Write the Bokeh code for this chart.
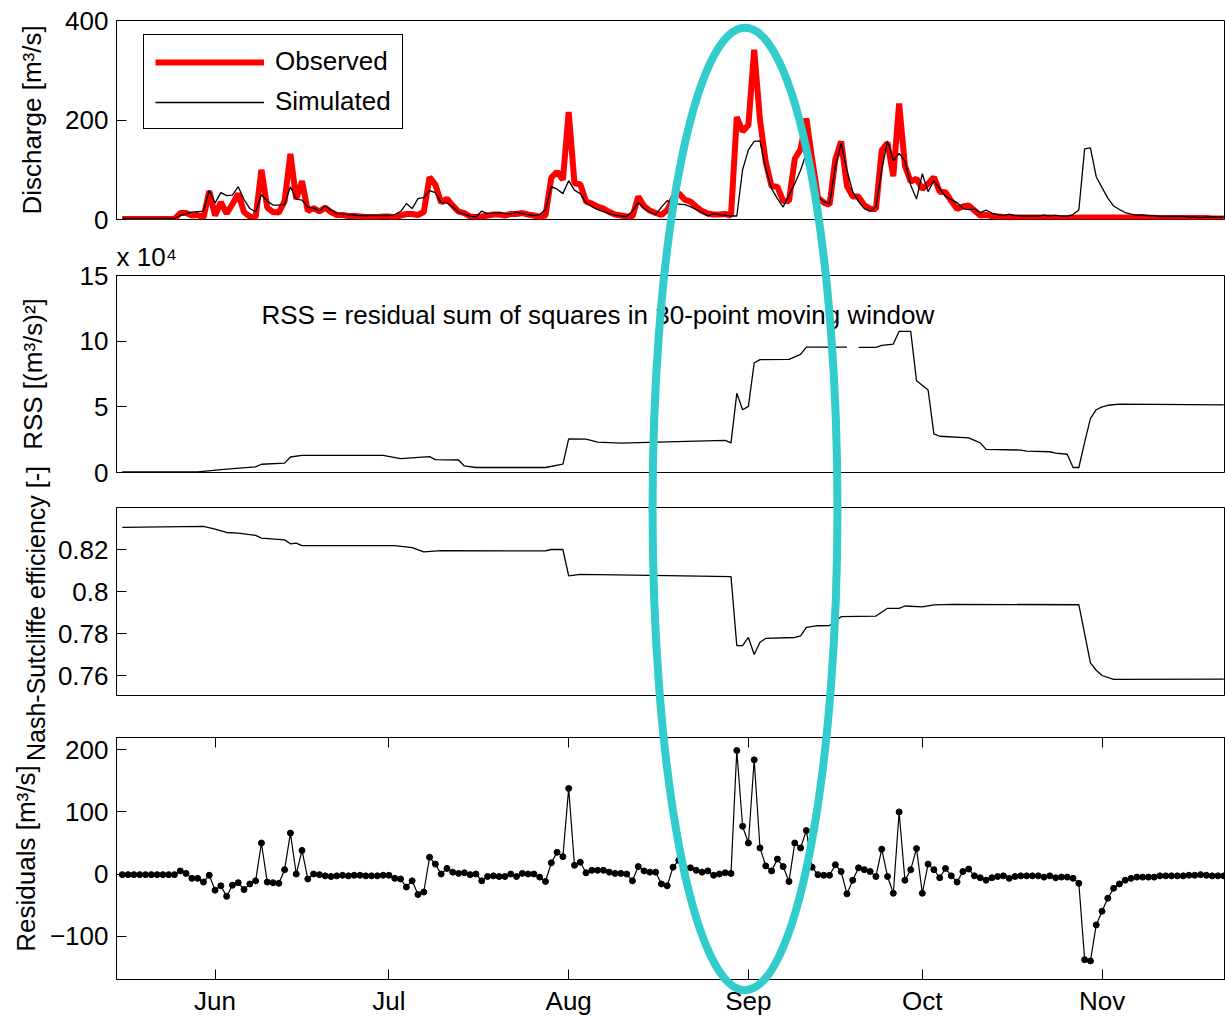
import numpy as np
from datetime import datetime, timedelta
from bokeh.plotting import figure
from bokeh.models import (Range1d, FixedTicker, CustomJSTickFormatter, Legend, LegendItem,
                          GridBox, DatetimeAxis)
from bokeh.core.properties import value
from bokeh.embed import file_html
from bokeh.resources import INLINE

FONT = "Liberation Sans"
FS = "26px"
START = datetime(2009, 5, 16)

# ---------------- data (daily, 16 May .. 22 Nov) ----------------
observed = [1, 1, 1, 1, 1, 1, 1, 1, 1, 1,
            13, 13, 8, 9, 4, 57, 8, 35, 12, 31,
            52, 15, 6, 4, 100, 24, 15, 14, 37, 132,
            41, 77, 17, 23, 16, 24, 15, 9, 9, 7,
            7, 6, 5, 5, 5, 6, 6, 3, 8, 11,
            11, 9, 15, 85, 70, 34, 42, 28, 16, 13,
            6, 5, 6, 8, 10, 10, 8, 11, 11, 13,
            10, 8, 5, 8, 84, 96, 80, 216, 73, 71,
            36, 32, 26, 22, 15, 10, 8, 6, 6, 46,
            27, 18, 13, 9, 19, 43, 53, 40, 36, 26,
            17, 12, 10, 10, 11, 8, 206, 177, 190, 341,
            200, 115, 67, 66, 37, 37, 122, 141, 203, 121,
            44, 34, 30, 121, 157, 67, 46, 46, 29, 21,
            21, 139, 154, 87, 233, 108, 76, 82, 61, 72,
            85, 56, 55, 37, 21, 26, 28, 18, 8, 9,
            7, 6, 5, 4, 4, 4, 4, 4, 4, 4,
            4, 3, 2, 2, 3, 4, 4, 4, 4, 4,
            4, 4, 4, 4, 4, 4, 4, 3, 3, 3,
            3, 3, 3, 3, 3, 3, 3, 3, 2, 2, 2]

simulated = [2, 2, 2, 2, 2, 2, 2, 2, 2, 2,
             8, 12, 15, 16, 17, 59, 33, 54, 48, 49,
             66, 40, 22, 15, 50, 37, 29, 29, 30, 66,
             41, 39, 25, 23, 17, 27, 19, 12, 11, 10,
             9, 8, 8, 8, 8, 8, 8, 10, 16, 32,
             22, 42, 44, 58, 54, 34, 33, 25, 15, 11,
             7, 5, 17, 12, 13, 14, 12, 11, 15, 12,
             10, 8, 10, 20, 66, 61, 52, 78, 59, 52,
             34, 26, 20, 16, 12, 9, 7, 6, 17, 34,
             22, 15, 10, 25, 38, 32, 31, 30, 26, 20,
             14, 7, 12, 10, 9, 7, 7, 100, 140, 157,
             158, 102, 62, 42, 25, 49, 72, 99, 133, 110,
             45, 36, 32, 106, 153, 99, 56, 36, 22, 17,
             25, 99, 158, 118, 133, 118, 69, 41, 92, 56,
             78, 62, 46, 40, 34, 22, 20, 21, 14, 19,
             13, 10, 8, 11, 8, 7, 7, 7, 7, 9,
             7, 9, 7, 7, 10, 19, 142, 144, 86, 64,
             43, 27, 20, 14, 11, 9, 9, 8, 8, 6,
             6, 6, 6, 6, 5, 5, 4, 5, 5, 5, 5]

residuals = [-1, -1, -1, -1, -1, -1, -1, -1, -1, -1,
             5, 1, -7, -7, -13, -2, -26, -19, -36, -18,
             -14, -25, -16, -11, 50, -13, -14, -15, 7, 66,
             0, 38, -8, 0, -1, -3, -4, -3, -2, -3,
             -2, -2, -3, -3, -3, -2, -2, -7, -8, -21,
             -11, -33, -29, 27, 16, 0, 9, 3, 1, 2,
             -1, 0, -11, -4, -3, -4, -4, 0, -4, 1,
             0, 0, -5, -12, 18, 35, 28, 138, 14, 19,
             2, 6, 6, 6, 3, 1, 1, 0, -11, 12,
             5, 3, 3, -16, -19, 11, 22, 10, 10, 6,
             3, 5, -2, 0, 2, 1, 199, 77, 50, 184,
             42, 13, 5, 24, 12, -12, 50, 42, 70, 11,
             -1, -2, -2, 15, 4, -32, -10, 10, 7, 4,
             -4, 40, -4, -31, 100, -10, 7, 41, -31, 16,
             7, -6, 9, -3, -13, 4, 8, -3, -6, -10,
             -6, -4, -3, -7, -4, -3, -3, -3, -3, -5,
             -3, -6, -5, -5, -7, -15, -138, -140, -82, -60,
             -39, -23, -16, -10, -7, -5, -5, -5, -5, -3,
             -3, -3, -3, -3, -2, -2, -1, -2, -3, -3, -3]

# RSS in 30-point moving window (units of 10^4 (m3/s)^2), day offset from 16 May
rss_day = [0, 13, 18, 23, 24, 28, 29, 31, 45, 48,
           53, 54, 58, 59, 61, 73, 76, 77, 80, 82,
           86, 94, 104, 105, 106, 107, 108, 109, 110, 115,
           117, 118, 125, 126, 127, 130, 131, 133, 134, 136,
           137, 139, 140, 141, 146, 148, 149, 155, 156, 160,
           161, 163, 164, 165, 166, 167, 168, 169, 170, 172, 190]
rss_1e4 = [0.05, 0.05, 0.25, 0.43, 0.63, 0.71, 1.18, 1.31, 1.31, 1.06,
           1.21, 0.98, 0.95, 0.50, 0.38, 0.38, 0.63, 2.56, 2.54, 2.31,
           2.23, 2.33, 2.44, 2.26, 6.03, 4.78, 5.03, 8.34, 8.59, 8.62,
           9.00, 9.55, 9.55, float("nan"), 9.53, 9.53, 9.68, 9.78, 10.75, 10.75,
           6.99, 6.28, 2.94, 2.76, 2.64, 2.26, 1.76, 1.71, 1.63, 1.58,
           1.48, 1.39, 0.38, 0.38, 2.30, 4.10, 4.78, 5.00, 5.12, 5.20, 5.15]

# Nash-Sutcliffe efficiency, day offset from 16 May
nse_day = [0, 14, 16, 18, 20, 23, 24, 28, 29, 30,
           31, 47, 50, 52, 55, 73, 74, 76, 77, 79,
           94, 105, 106, 107, 108, 109, 110, 111, 116, 117,
           118, 120, 122, 124, 130, 132, 134, 135, 138, 140,
           143, 165, 167, 168, 169, 171, 190]
nse = [0.8305, 0.8310, 0.8297, 0.8281, 0.8278, 0.8267, 0.8254, 0.8246, 0.8227, 0.8230,
       0.8218, 0.8218, 0.8209, 0.8189, 0.8195, 0.8193, 0.8200, 0.8200, 0.8074, 0.8082,
       0.8076, 0.8071, 0.7742, 0.7742, 0.7781, 0.7700, 0.7758, 0.7777, 0.7781, 0.7789,
       0.7829, 0.7837, 0.7838, 0.7880, 0.7883, 0.7920, 0.7920, 0.7931, 0.7927, 0.7936,
       0.7939, 0.7937, 0.7660, 0.7625, 0.7600, 0.7582, 0.7583]

month_starts = [datetime(2009, m, 1) for m in (6, 7, 8, 9, 10, 11)]
discharge_ticks = [0, 200, 400]
rss_ticks = [0, 5, 10, 15]
nse_ticks = [0.76, 0.78, 0.80, 0.82]
res_ticks = [-100, 0, 100, 200]

rss_note = "RSS = residual sum of squares in 30-point moving window"
nse_label = "Nash-Sutcliffe efficiency [-]"
# highlighted period (cyan ellipse)
highlight_center = datetime(2009, 8, 31, 10)
highlight_width_days = 31.9

# ---------------- derived x values ----------------
dates = [START + timedelta(days=i) for i in range(len(observed))]
rss_dates = [START + timedelta(days=d) for d in rss_day]
nse_dates = [START + timedelta(days=d) for d in nse_day]
EPOCH = datetime(1970, 1, 1)


def ms(d):
    return (d - EPOCH).total_seconds() * 1000.0


tick_ms = [ms(d) for d in month_starts]
SPAN_DAYS = 191.3
X_START = START - timedelta(days=1)
X_END = X_START + timedelta(days=SPAN_DAYS)
xr = Range1d(X_START, X_END)

LEFT = 116
PAGE_W, PAGE_H = 1225, 1018
PX_PER_DAY = (PAGE_W - LEFT) / SPAN_DAYS


def panel(height, top, bottom, y0, y1, ticks, label, label_standoff, xaxis=False):
    p = figure(width=PAGE_W, height=height, x_range=xr, y_range=Range1d(y0, y1),
               x_axis_type="datetime", x_axis_location="below" if xaxis else None,
               toolbar_location=None, output_backend="svg",
               min_border_left=LEFT, min_border_right=0,
               min_border_top=top, min_border_bottom=bottom)
    p.outline_line_color = "black"
    p.outline_line_width = 1
    p.outline_line_alpha = 1
    p.grid.visible = False
    p.background_fill_color = "white"
    p.border_fill_color = "white"
    ya = p.yaxis[0]
    ya.ticker = FixedTicker(ticks=ticks)
    ya.major_tick_in = 10
    ya.major_tick_out = 0
    ya.minor_tick_line_color = None
    ya.axis_line_color = "black"
    ya.major_tick_line_color = "black"
    ya.major_label_text_font = FONT
    ya.major_label_text_font_size = FS
    ya.major_label_text_color = "black"
    ya.major_label_standoff = 8
    if label:
        ya.axis_label = label
        ya.axis_label_text_font = FONT
        ya.axis_label_text_font_size = FS
        ya.axis_label_text_font_style = "normal"
        ya.axis_label_text_color = "black"
        ya.axis_label_standoff = label_standoff
    return p


# --- Panel 1: discharge
p1 = panel(235, 20, 16, 0, 400, discharge_ticks, "Discharge [m³/s]", 15)
r_obs = p1.line(dates, observed, line_color="red", line_width=6)
r_sim = p1.line(dates, simulated, line_color="black", line_width=1.3)
legend = Legend(items=[LegendItem(label="Observed", renderers=[r_obs]),
                       LegendItem(label="Simulated", renderers=[r_sim])],
                location=(27, 90), orientation="vertical",
                label_text_font=FONT, label_text_font_size=FS, label_text_color="black",
                glyph_width=109, glyph_height=30, label_height=30, label_standoff=11,
                spacing=9, padding=11, margin=0,
                border_line_color="black", border_line_width=1, border_line_alpha=1,
                background_fill_color="white", background_fill_alpha=1)
p1.add_layout(legend)

# --- Panel 2: RSS
p2 = panel(253, 38, 16, 0, 15, rss_ticks, "RSS [(m³/s)²]", 29)
p2.line(rss_dates, np.array(rss_1e4), line_color="black", line_width=1.3)
p2.text(x=[datetime(2009, 6, 9)], y=[12.0], text=[rss_note],
        text_font=value(FONT), text_font_size="26px", text_color="black",
        text_baseline="middle", text_align="left")
p2.title.text = "x 10⁴"
p2.title.align = "left"
p2.title.text_font = FONT
p2.title.text_font_size = FS
p2.title.text_font_style = "normal"
p2.title.text_color = "black"
p2.title.standoff = 8

# --- Panel 3: NSE (its long axis title is drawn on the overlay so it is not cut)
p3 = panel(208, 19, 0, 0.75, 0.84, nse_ticks, None, 7)
p3.yaxis[0].formatter = CustomJSTickFormatter(code="return (Math.round(tick*100)/100).toString();")
p3.line(nse_dates, nse, line_color="black", line_width=1.3)

# --- Panel 4: residuals
p4 = panel(322, 41, 37, -170, 220, res_ticks, "Residuals [m³/s]", 6, xaxis=True)
p4.line(dates, residuals, line_color="black", line_width=1.2)
p4.scatter(dates, residuals, size=6, color="black")
month_fmt = CustomJSTickFormatter(code="""
const n = ['Jan','Feb','Mar','Apr','May','Jun','Jul','Aug','Sep','Oct','Nov','Dec'];
return n[new Date(tick).getUTCMonth()];
""")
xa = p4.xaxis[0]
xa.ticker = FixedTicker(ticks=tick_ms)
xa.formatter = month_fmt
xa.major_tick_in = 10
xa.major_tick_out = 0
xa.minor_tick_line_color = None
xa.axis_line_color = "black"
xa.major_label_text_font = FONT
xa.major_label_text_font_size = FS
xa.major_label_text_color = "black"
xa.major_label_standoff = 6
top_ax = DatetimeAxis(ticker=FixedTicker(ticks=tick_ms),
                      formatter=CustomJSTickFormatter(code="return '';"),
                      major_tick_in=10, major_tick_out=0, minor_tick_line_color=None,
                      axis_line_color="black", major_label_standoff=0)
p4.add_layout(top_ax, "above")

# --- transparent overlay over the whole page: highlight ellipse + long axis title
ov_xr = Range1d(X_START - timedelta(days=LEFT / PX_PER_DAY), X_END)
ov = figure(width=PAGE_W, height=PAGE_H, x_range=ov_xr, y_range=Range1d(0, 1),
            x_axis_location=None, y_axis_location=None, toolbar_location=None,
            title_location=None, output_backend="svg",
            min_border_left=0, min_border_right=0, min_border_top=0, min_border_bottom=0)
ov.frame_align = False
ov.grid.visible = False
ov.outline_line_color = None
ov.background_fill_color = None
ov.border_fill_color = None
ov.ellipse(x=[highlight_center], y=[0.5005], width=[highlight_width_days * 86400000.0],
           height=[0.946], fill_color=None, line_color="#33cccc", line_width=8)
ov.text(x=[X_START - timedelta(days=(LEFT - 35) / PX_PER_DAY)], y=[(PAGE_H - 613) / PAGE_H],
        text=[nse_label], angle=np.pi / 2, text_font=value(FONT), text_font_size="25px",
        text_color="black", text_align="center", text_baseline="middle")

grid = GridBox(children=[(p1, 0, 0), (p2, 1, 0), (p3, 2, 0), (p4, 3, 0), (ov, 0, 0, 4, 1)],
               spacing=0)

open("out.html", "w").write(file_html(grid, INLINE))
